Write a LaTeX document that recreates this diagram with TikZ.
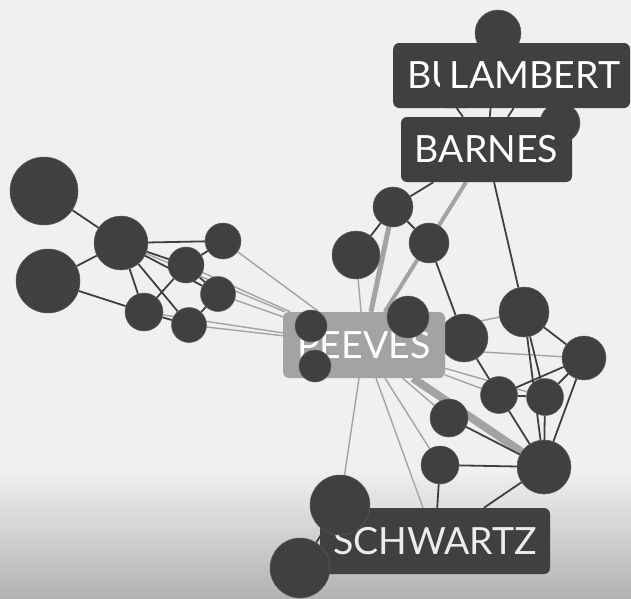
\documentclass[tikz,border=0pt]{standalone}
\usepackage{fontspec}
\setmainfont{Lato}
\usetikzlibrary{positioning}
\pgfdeclarelayer{back}
\pgfdeclarelayer{links}
\pgfsetlayers{back,links,main}
\definecolor{ink}{HTML}{404040}
\definecolor{ash}{HTML}{A3A3A3}
\definecolor{paper}{HTML}{F0F0F0}
\tikzset{
  ball/.style={circle,fill=ink,draw=ink!85!white,line width=0.5pt,inner sep=0pt,minimum size=#1pt},
  tag/.style={rounded corners=6pt,fill=ink,text=white,inner sep=0pt,minimum height=65pt,font=\fontsize{37.5}{37.5}\selectfont},
  tie/.style={draw=ink,line width=1.8pt},
  faint/.style={draw=ash,line width=1.4pt},
  heavy/.style={draw=ash,line width=#1pt},
}

\begin{document}
\begin{tikzpicture}[x=1pt,y=-1pt]
\useasboundingbox (0,0) rectangle (631,598);
\begin{pgfonlayer}{back}
\fill[paper] (0,0) rectangle (631,598);
\shade[top color=paper,bottom color=ink!35!paper] (0,470) rectangle (631,598);
\end{pgfonlayer}

% left group
\node (l1)[ball=68] at (44,191) {};
\node (l2)[ball=64] at (48,281) {};
\node (l3)[ball=54] at (121,243) {};
\node (l4)[ball=36] at (223,241) {};
\node (l5)[ball=36] at (186,265) {};
\node (l6)[ball=35] at (218,294) {};
\node (l7)[ball=38] at (144,312) {};
\node (l8)[ball=35] at (189,325) {};
% middle and right
\node (m1)[ball=40] at (393,207) {};
\node (m2)[ball=48] at (356,255) {};
\node (m3)[ball=40] at (429,243) {};
\node (m5)[ball=48] at (464,338) {};
\node (m6)[ball=50] at (524,312) {};
\node (m7)[ball=44] at (584,358) {};
\node (m8)[ball=37] at (499,395) {};
\node (m9)[ball=37] at (545,397) {};
\node (m10)[ball=38] at (449,418) {};
\node (c1)[ball=38] at (440,465) {};
\node (c2)[ball=54] at (544,467) {};
% top
\node (t1)[ball=46] at (498,33) {};
\node (t2)[ball=40] at (560,123) {};

% labels
\node (bu)[tag,anchor=west,text width=52pt,align=left,inner xsep=14pt] at (393,75.5) {BU};
\node (lambert)[tag,minimum width=190pt] at (535,75.5) {LAMBERT};
\node (barnes)[tag,minimum width=171pt] at (486.5,149.5) {BARNES};
\node (peeves)[tag,fill=ash,minimum width=162pt,minimum height=66pt] at (364,345) {PEEVES};
\node (schwartz)[tag,text=white!90!ink,minimum width=230pt,minimum height=66pt] at (435,541) {SCHWARTZ};

% over the labels
\node (p1)[ball=32] at (311,326) {};
\node (p2)[ball=32] at (315,366) {};
\node (m4)[ball=42] at (408,317) {};
\node (c3)[ball=60] at (340,505) {};
\node (c4)[ball=60] at (300,568) {};

% draw the connections
\begin{pgfonlayer}{links}
\draw[tie] (l1)--(l3) (l2)--(l3) (l2)--(l7) (l3)--(l4) (l3)--(l5) (l3)--(l6)
  (l3)--(l7) (l3)--(l8) (l7)--(l5) (l5)--(l4) (l5)--(l6) (l6)--(l8) (l7)--(l8);
\draw[faint] (l3)--(peeves) (l4)--(peeves) (l5)--(peeves) (l6)--(peeves)
  (l7)--(peeves) (l8)--(peeves);
\draw[tie] (m1)--(m2) (m1)--(m3) (m1)--(barnes) (m3)--(m5) (m6)--(barnes)
  (barnes)--(t1) (barnes)--(lambert) (barnes)--(bu);
\draw[faint] (peeves)--(m2) (peeves)--(m6) (peeves)--(m7) (peeves)--(m8)
  (peeves)--(m9) (peeves)--(m10) (peeves)--(c1) (peeves)--(schwartz) (peeves)--(c3);
\draw[heavy=5] (peeves)--(m1);
\draw[heavy=4] (peeves)--(barnes);
\draw[heavy=8] (peeves)--(c2);
\draw[tie] (m5)--(m8) (m6)--(m7) (m6)--(m9) (m6)--(c2) (m7)--(m8) (m7)--(m9)
  (m7)--(c2) (m8)--(m9) (m8)--(c2) (m9)--(c2) (m10)--(c2) (c1)--(c2)
  (c1)--(schwartz) (c2)--(schwartz) (c3)--(c4);
\end{pgfonlayer}
\end{tikzpicture}
\end{document}
